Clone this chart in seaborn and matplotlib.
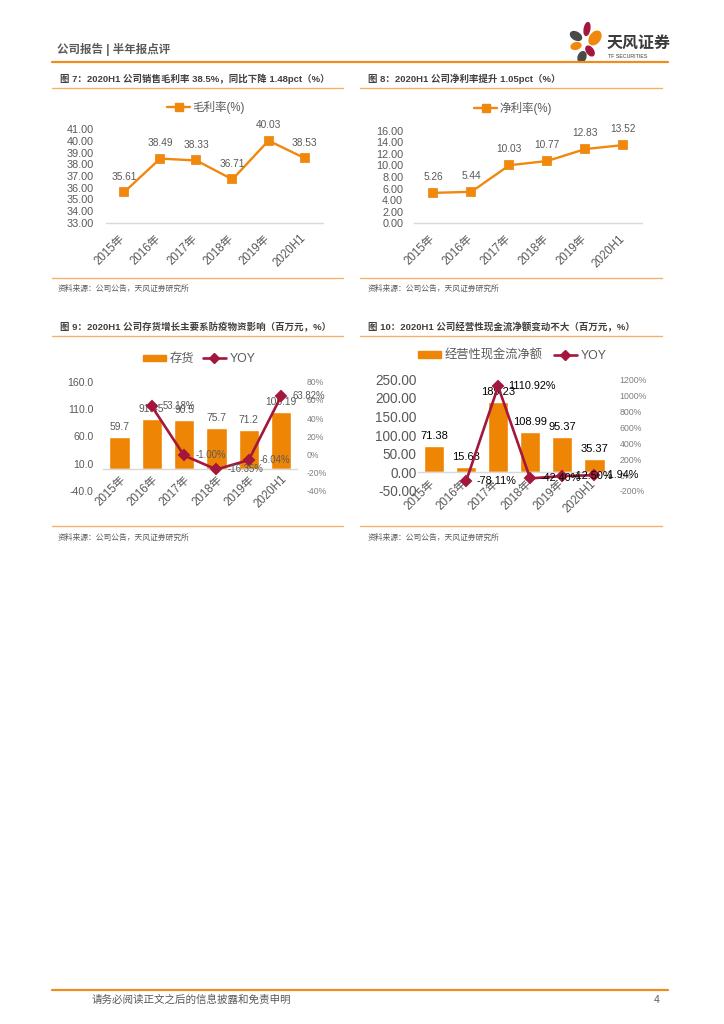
import numpy as np
import pandas as pd
import matplotlib
matplotlib.use("Agg")
import matplotlib.pyplot as plt
import matplotlib.transforms as mtrans
from matplotlib.lines import Line2D
from matplotlib.patches import Ellipse, Rectangle
import seaborn as sns

# ---------------- data ----------------
years = ["2015年", "2016年", "2017年", "2018年", "2019年", "2020H1"]
gross_margin = [35.61, 38.49, 38.33, 36.71, 40.03, 38.53]
net_margin = [5.26, 5.44, 10.03, 10.77, 12.83, 13.52]
inventory = [59.7, 91.45, 90.5, 75.7, 71.2, 105.19]
inventory_yoy = [np.nan, 53.18, -1.00, -16.35, -6.04, 63.82]
cashflow = [71.38, 15.63, 189.23, 108.99, 95.37, 35.37]
cashflow_yoy = [np.nan, -78.11, 1110.92, -42.40, -12.50, -1.94]

gm_ticks = [33, 34, 35, 36, 37, 38, 39, 40, 41]
nm_ticks = [0, 2, 4, 6, 8, 10, 12, 14, 16]
inv_ticks = [-40, 10, 60, 110, 160]
inv_yoy_ticks = [-40, -20, 0, 20, 40, 60, 80]
cf_ticks = [-50, 0, 50, 100, 150, 200, 250]
cf_yoy_ticks = [-200, 0, 200, 400, 600, 800, 1000, 1200]

titles = [
    "图 7：2020H1 公司销售毛利率 38.5%，同比下降 1.48pct（%）",
    "图 8：2020H1 公司净利率提升 1.05pct（%）",
    "图 9：2020H1 公司存货增长主要系防疫物资影响（百万元，%）",
    "图 10：2020H1 公司经营性现金流净额变动不大（百万元，%）",
]
source_text = "资料来源：公司公告，天风证券研究所"
header_text = "公司报告 | 半年报点评"
footer_text = "请务必阅读正文之后的信息披露和免责申明"

# ---------------- style ----------------
sns.set_theme(style="white")
plt.rcParams["font.family"] = ["Liberation Sans", "Noto Sans CJK SC", "DejaVu Sans"]
plt.rcParams["axes.unicode_minus"] = False

ORANGE = "#F0880E"
BAR = "#EF8505"
RED = "#A3173D"
RULE = "#F5B06A"
HEAD = "#F08C1E"
GREY = "#595959"
LGREY = "#7F7F7F"
AXL = "#D9D9D9"

W, H = 724, 1024
fig = plt.figure(figsize=(W / 100, H / 100), dpi=100)
fig.patch.set_facecolor("white")


def fx(x):
    return x / W


def fy(y):
    return 1 - y / H


def hline(x0, x1, y, color, lw):
    fig.add_artist(Line2D([fx(x0), fx(x1)], [fy(y), fy(y)], color=color, lw=lw,
                          transform=fig.transFigure))


def axes_px(left, top, right, bottom):
    return fig.add_axes([fx(left), fy(bottom), (right - left) / W, (bottom - top) / H])


def shift_labels(ax, dx, dy):
    off = mtrans.ScaledTranslation(dx / 72, dy / 72, fig.dpi_scale_trans)
    for lbl in ax.get_xticklabels():
        lbl.set_transform(lbl.get_transform() + off)


def style_cat_axis(ax, size, pad, zero_spine=False):
    for s in ["left", "top", "right"]:
        ax.spines[s].set_visible(False)
    if zero_spine:
        ax.spines["bottom"].set_position(("data", 0))
    ax.spines["bottom"].set_color(AXL)
    ax.spines["bottom"].set_linewidth(1.0)
    ax.tick_params(axis="both", length=0, colors=GREY)
    ax.tick_params(axis="x", labelsize=size, pad=pad)
    ax.set_xticks(range(len(years)))
    ax.set_xticklabels(years, rotation=45, ha="right")
    ax.set_xlim(-0.5, len(years) - 0.5)
    ax.set_xlabel("")
    ax.set_ylabel("")
    ax.grid(False)


# ---------------- header / footer ----------------
fig.text(fx(57), fy(50), header_text, fontsize=8.3, fontweight="bold", color=GREY, va="center")
hline(52, 668, 61.5, HEAD, 1.6)
# logo petals, in pixel units (isotropic, via inches)
petals = [
    ((587, 29), 13, 5.5, 80, RED),
    ((576, 36), 12, 7.5, -30, "#4A4A4A"),
    ((595, 38), 15, 10, 55, ORANGE),
    ((576, 46), 10, 6.5, 15, ORANGE),
    ((590, 51), 11, 6.5, -55, RED),
    ((582, 57), 11, 7.5, 70, "#4A4A4A"),
]
for (cx, cy), w, h, ang, col in petals:
    fig.add_artist(Ellipse((cx / 100, (H - cy) / 100), w / 100, h / 100, angle=ang,
                           color=col, transform=fig.dpi_scale_trans))
fig.text(fx(607), fy(43), "天风证券", fontsize=11.5, fontweight="bold", color="#3A3A3A", va="center")
fig.text(fx(608), fy(56), "TF SECURITIES", fontsize=3.8, color="#3A3A3A", va="center")

hline(52, 668, 990, HEAD, 1.6)
fig.text(fx(92), fy(1000), footer_text, fontsize=7.6, color=GREY, va="center")
fig.text(fx(660), fy(1000), "4", fontsize=7.6, color=GREY, va="center", ha="right")

# ---------------- titles / rules / sources ----------------
title_pos = [(60, 79), (367.5, 79), (59.5, 326.7), (367.5, 326.7)]
rule_spans = [(52, 342.5), (360, 662), (52, 342.5), (360, 662)]
rule_top = [88.3, 88.3, 336, 336]
rule_bot = [277.7, 277.7, 526, 526]
src_y = [288.5, 288.5, 537.5, 537.5]
src_x = [58, 367.5, 58, 367.5]
for i in range(4):
    fig.text(fx(title_pos[i][0]), fy(title_pos[i][1]), titles[i], fontsize=6.8,
             fontweight="bold", color="#404040", va="center")
    hline(rule_spans[i][0], rule_spans[i][1], rule_top[i], RULE, 1.0)
    hline(rule_spans[i][0], rule_spans[i][1], rule_bot[i], RULE, 1.0)
    fig.text(fx(src_x[i]), fy(src_y[i]), source_text, fontsize=5.6, color=GREY, va="center")

# ---------------- chart 7: gross margin ----------------
ax7 = axes_px(106, 129.3, 322.7, 222.7)
df7 = pd.DataFrame({"year": years, "v": gross_margin})
sns.pointplot(data=df7, x="year", y="v", order=years, errorbar=None, color=ORANGE,
              markers="s", markersize=5.5, linewidth=1.7, ax=ax7)
style_cat_axis(ax7, 8.3, 7)
ax7.set_ylim(33, 41)
ax7.set_yticks(gm_ticks)
ax7.set_yticklabels([f"{v:.2f}" for v in gm_ticks])
ax7.tick_params(axis="y", labelsize=7.8, pad=9)
for i, v in enumerate(gross_margin):
    ax7.annotate(f"{v:.2f}", (i, v), xytext=(0, 11), textcoords="offset points",
                 ha="center", va="center", fontsize=7.3, color=GREY)
shift_labels(ax7, 2.5, 0)
ax7.legend(handles=[Line2D([], [], color=ORANGE, marker="s", markersize=6, lw=1.7)],
           labels=["毛利率(%)"], loc="center", bbox_to_anchor=(fx(206), fy(108)),
           bbox_transform=fig.transFigure, frameon=False, fontsize=8.3,
           handlelength=2.0, handletextpad=0.2, labelcolor=GREY)

# ---------------- chart 8: net margin ----------------
ax8 = axes_px(414.3, 130.7, 642.3, 223.3)
df8 = pd.DataFrame({"year": years, "v": net_margin})
sns.pointplot(data=df8, x="year", y="v", order=years, errorbar=None, color=ORANGE,
              markers="s", markersize=5.5, linewidth=1.7, ax=ax8)
style_cat_axis(ax8, 8.3, 7)
ax8.set_ylim(0, 16)
ax8.set_yticks(nm_ticks)
ax8.set_yticklabels([f"{v:.2f}" for v in nm_ticks])
ax8.tick_params(axis="y", labelsize=7.8, pad=8)
for i, v in enumerate(net_margin):
    ax8.annotate(f"{v:.2f}", (i, v), xytext=(0, 11.5), textcoords="offset points",
                 ha="center", va="center", fontsize=7.3, color=GREY)
shift_labels(ax8, 2.5, 0)
ax8.legend(handles=[Line2D([], [], color=ORANGE, marker="s", markersize=6, lw=1.7)],
           labels=["净利率(%)"], loc="center", bbox_to_anchor=(fx(513), fy(108.5)),
           bbox_transform=fig.transFigure, frameon=False, fontsize=8.3,
           handlelength=2.0, handletextpad=0.2, labelcolor=GREY)

# ---------------- chart 9: inventory ----------------
ax9 = axes_px(103.2, 381.7, 297.2, 491)
df9 = pd.DataFrame({"year": years, "v": inventory, "yoy": inventory_yoy})
sns.barplot(data=df9, x="year", y="v", order=years, color=BAR, saturation=1,
            width=0.63, errorbar=None, ax=ax9)
ax9.set_ylim(-40, 160)
ax9.set_yticks(inv_ticks)
ax9.set_yticklabels([f"{v:.1f}" for v in inv_ticks])
ax9.bar_label(ax9.containers[0], labels=[f"{v:g}" for v in inventory], padding=3.5,
              fontsize=7.4, color=GREY)
ax9b = ax9.twinx()
sns.pointplot(data=df9, x="year", y="yoy", order=years, errorbar=None, color=RED,
              markers="D", markersize=5, linewidth=1.9, ax=ax9b)
ax9b.set_ylim(-40, 80)
ax9b.set_yticks(inv_yoy_ticks)
ax9b.set_yticklabels([f"{v}%" for v in inv_yoy_ticks])
ax9b.tick_params(axis="y", length=0, labelsize=6.2, colors=LGREY, pad=7)
for s in ax9b.spines.values():
    s.set_visible(False)
ax9b.set_ylabel("")
for i, v in enumerate(inventory_yoy):
    if not np.isnan(v):
        ax9b.annotate(f"{v:.2f}%", (i, v), xytext=(8, 0), textcoords="offset points",
                      ha="left", va="center", fontsize=6.9, color=GREY)
style_cat_axis(ax9, 8.3, 3, zero_spine=True)
ax9.tick_params(axis="y", labelsize=7.6, pad=7)
ax9.set_zorder(1)
ax9b.set_zorder(2)
shift_labels(ax9, 6, 0)
ax9.legend(handles=[Rectangle((0, 0), 1, 1, color=BAR),
                    Line2D([], [], color=RED, marker="D", markersize=5, lw=1.9)],
           labels=["存货", "YOY"], loc="center", bbox_to_anchor=(fx(199), fy(359.3)),
           bbox_transform=fig.transFigure, frameon=False, fontsize=8.8, ncol=2,
           handlelength=1.9, handleheight=0.45, handletextpad=0.3, columnspacing=0.7,
           labelcolor=GREY)

# ---------------- chart 10: operating cash flow ----------------
ax10 = axes_px(418, 379.3, 610.3, 491)
df10 = pd.DataFrame({"year": years, "v": cashflow, "yoy": cashflow_yoy})
sns.barplot(data=df10, x="year", y="v", order=years, color=BAR, saturation=1,
            width=0.64, errorbar=None, ax=ax10)
ax10.set_ylim(-50, 250)
ax10.set_yticks(cf_ticks)
ax10.set_yticklabels([f"{v:.2f}" for v in cf_ticks])
ax10.bar_label(ax10.containers[0], labels=[f"{v:.2f}" for v in cashflow], padding=3.5,
               fontsize=8, color="black")
ax10b = ax10.twinx()
sns.pointplot(data=df10, x="year", y="yoy", order=years, errorbar=None, color=RED,
              markers="D", markersize=5, linewidth=1.9, ax=ax10b)
ax10b.set_ylim(-200, 1200)
ax10b.set_yticks(cf_yoy_ticks)
ax10b.set_yticklabels([f"{v}%" for v in cf_yoy_ticks])
ax10b.tick_params(axis="y", length=0, labelsize=6.3, colors=LGREY, pad=6.5)
for s in ax10b.spines.values():
    s.set_visible(False)
ax10b.set_ylabel("")
for i, v in enumerate(cashflow_yoy):
    if not np.isnan(v):
        ax10b.annotate(f"{v:.2f}%", (i, v), xytext=(7.5, 0), textcoords="offset points",
                       ha="left", va="center", fontsize=7.8, color="black")
style_cat_axis(ax10, 8.3, 4, zero_spine=True)
ax10.tick_params(axis="y", labelsize=9.8, pad=1)
ax10.set_zorder(1)
ax10b.set_zorder(2)
shift_labels(ax10, 2.5, 0)
ax10.legend(handles=[Rectangle((0, 0), 1, 1, color=BAR),
                     Line2D([], [], color=RED, marker="D", markersize=5, lw=1.9)],
            labels=["经营性现金流净额", "YOY"], loc="center", bbox_to_anchor=(fx(512), fy(355.7)),
            bbox_transform=fig.transFigure, frameon=False, fontsize=8.8, ncol=2,
            handlelength=1.9, handleheight=0.45, handletextpad=0.3, columnspacing=0.9,
            labelcolor=GREY)

fig.savefig("out.png", dpi=100, facecolor="white")
